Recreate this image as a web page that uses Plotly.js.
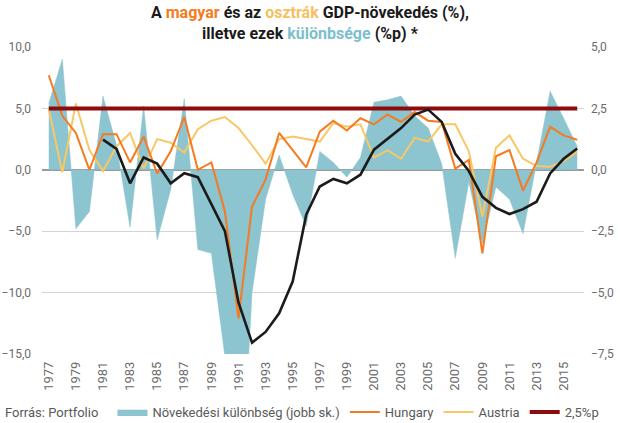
<!DOCTYPE html>
<html>
<head>
<meta charset="utf-8">
<script src="https://cdn.plot.ly/plotly-3.0.1.min.js"></script>
<style>html,body{margin:0;padding:0;background:#fff;}#chart{width:620px;height:423px;}</style>
</head>
<body>
<div id="chart"></div>
<script>
var years = [1977,1978,1979,1980,1981,1982,1983,1984,1985,1986,1987,1988,1989,1990,1991,1992,1993,1994,1995,1996,1997,1998,1999,2000,2001,2002,2003,2004,2005,2006,2007,2008,2009,2010,2011,2012,2013,2014,2015,2016];

var hungary = [7.7,4.4,3.0,0.0,2.9,2.9,0.6,2.7,-0.3,1.5,4.3,0.0,0.6,-3.4,-12.1,-3.0,-0.8,3.0,1.6,0.2,3.1,4.0,3.2,4.2,3.7,4.5,3.9,4.7,4.0,3.9,0.1,0.8,-6.8,1.1,1.6,-1.7,0.6,3.5,2.8,2.45];

var austria = [4.9,-0.2,5.4,1.6,-0.1,1.9,3.0,0.1,2.5,2.2,1.4,3.3,4.0,4.3,3.4,2.0,0.5,2.5,2.7,2.5,2.3,3.8,3.5,3.7,1.0,1.6,0.9,2.6,2.3,3.7,3.7,1.5,-3.8,1.8,2.8,0.9,0.3,0.25,0.7,1.5];

var difference = [2.7,4.5,-2.4,-1.7,3.0,1.0,-2.35,2.6,-2.85,-0.8,2.9,-3.25,-3.4,-7.6,-15.4,-5.0,-1.2,0.6,-1.0,-2.3,0.75,0.3,-0.3,0.5,2.75,2.85,3.0,2.2,1.7,0.25,-3.6,-0.5,-3.0,-0.7,-1.2,-2.6,0.3,3.2,2.1,0.95];

var trend = [null,null,null,null,1.23,0.85,-0.55,0.5,0.25,-0.55,-0.14,-0.3,-1.4,-2.5,-5.4,-7.04,-6.6,-5.84,-4.55,-1.83,-0.68,-0.37,-0.55,-0.2,0.82,1.27,1.7,2.25,2.45,1.95,0.65,-0.05,-1.1,-1.55,-1.8,-1.6,-1.3,-0.15,0.45,0.87];

var threshold = 2.5;
var thresholdLine = years.map(function(){ return threshold; });

var seriesNames = ['Növekedési különbség (jobb sk.)','Hungary','Austria','2,5%p'];

var FONT = 'Roboto, "Open Sans", sans-serif';
var GREY = '#595959';

var traces = [
  {x: years, y: difference, yaxis: 'y', type: 'scatter', mode: 'lines', fill: 'tozeroy',
   fillcolor: '#8cc4cf', line: {color: '#8cc4cf', width: 0.5}, name: seriesNames[0], legendrank: 1},
  {x: years, y: austria, yaxis: 'y2', type: 'scatter', mode: 'lines',
   line: {color: '#f9c766', width: 2}, name: seriesNames[2], legendrank: 3},
  {x: years, y: hungary, yaxis: 'y2', type: 'scatter', mode: 'lines',
   line: {color: '#f47b20', width: 2}, name: seriesNames[1], legendrank: 2},
  {x: years, y: thresholdLine, yaxis: 'y3', type: 'scatter', mode: 'lines',
   line: {color: '#8e0b0b', width: 4}, name: seriesNames[3], legendrank: 4},
  {x: years, y: trend, yaxis: 'y3', type: 'scatter', mode: 'lines',
   line: {color: '#1b1b1b', width: 2.6}, showlegend: false, hoverinfo: 'skip'}
];

var layout = {
  width: 620, height: 423,
  margin: {l: 42, r: 36, t: 47, b: 69, pad: 0, autoexpand: false},
  paper_bgcolor: '#ffffff', plot_bgcolor: '#ffffff',
  separators: ', ',
  font: {family: FONT, size: 12, color: GREY},
  title: {
    text: '<b>A <span style="color:#f47b20">magyar</span> és az <span style="color:#f6bf5f">osztrák</span> GDP-növekedés (%),<br>illetve ezek <span style="color:#7dbfcc">különbsége</span> (%p) *</b>',
    font: {family: FONT, size: 16, color: '#1a1a1a'},
    x: 0.5, xref: 'container', xanchor: 'center',
    y: 0.958, yref: 'container', yanchor: 'top'
  },
  showlegend: true,
  legend: {
    orientation: 'h', x: 0.13, xanchor: 'left', y: 0.026, yref: 'container', yanchor: 'middle',
    font: {family: FONT, size: 13, color: GREY}, bgcolor: 'rgba(0,0,0,0)',
    traceorder: 'normal', itemwidth: 30
  },
  xaxis: {
    range: [1976.5, 2016.5], tick0: 1977, dtick: 2, tickangle: -90,
    showgrid: false, zeroline: false, showline: false, ticks: '', ticklabelstandoff: 4,
    tickfont: {family: FONT, size: 13, color: '#6b6b6b'}, automargin: false, fixedrange: true
  },
  yaxis: {
    side: 'right', range: [-7.5, 5], tick0: 0, dtick: 2.5, tickformat: '.1f',
    showgrid: true, gridcolor: '#d4d4d4', gridwidth: 1,
    zeroline: true, zerolinecolor: '#9a9a9a', zerolinewidth: 1.5,
    ticks: '', ticklabelstandoff: 6, showline: false,
    tickfont: {family: FONT, size: 12, color: '#6b6b6b'}, automargin: false, fixedrange: true
  },
  yaxis2: {
    overlaying: 'y', side: 'left', range: [-15, 10], tick0: 0, dtick: 5, tickformat: '.1f',
    showgrid: false, zeroline: false, ticks: '', ticklabelstandoff: 10, showline: false,
    tickfont: {family: FONT, size: 12, color: '#6b6b6b'}, automargin: false, fixedrange: true
  },
  yaxis3: {
    overlaying: 'y', range: [-7.5, 5], visible: false, showgrid: false, zeroline: false, fixedrange: true
  },
  annotations: [
    {text: 'Forrás: Portfolio', xref: 'paper', yref: 'paper', x: -0.072, y: -0.189,
     xanchor: 'left', yanchor: 'middle', showarrow: false,
     font: {family: FONT, size: 13, color: GREY}}
  ]
};

Plotly.newPlot('chart', traces, layout, {displayModeBar: false, staticPlot: true});
</script>
</body>
</html>
